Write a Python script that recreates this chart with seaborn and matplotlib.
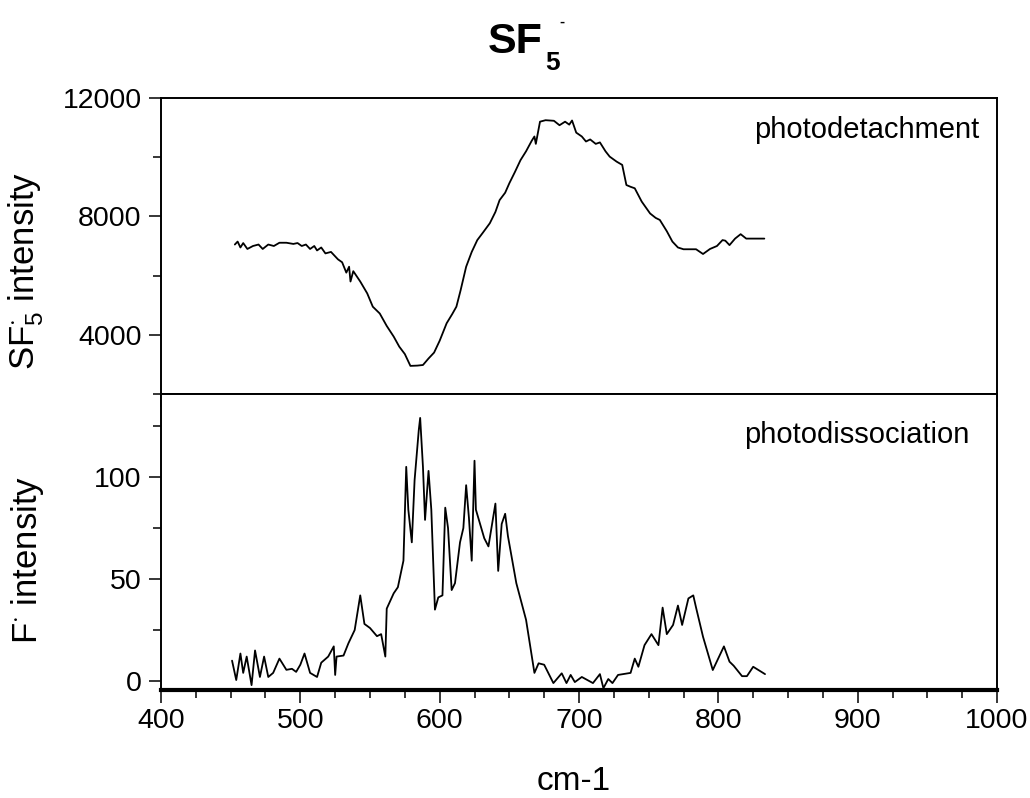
import matplotlib
matplotlib.use("Agg")
import matplotlib.pyplot as plt
from matplotlib.ticker import MultipleLocator, FixedLocator
import seaborn as sns

# ---- data ----
det_x = [453, 455, 457, 459, 462, 466, 470, 473, 477, 481, 485, 490, 495, 498, 501, 504,
         507, 510, 512, 515, 518, 522, 527, 530, 533, 535, 536, 538, 543, 548, 552, 557,
         562, 567, 571, 575, 579, 584, 588, 592, 596, 600, 605, 609, 612, 615, 619, 623,
         627, 631, 636, 640, 643, 647, 650, 654, 658, 662, 666, 668, 669, 672, 676, 682,
         686, 690, 693, 695, 698, 702, 705, 708, 712, 715, 719, 722, 727, 731, 734, 737,
         740, 745, 751, 755, 758, 763, 767, 771, 775, 784, 789, 794, 799, 803, 805, 808,
         812, 816, 820, 833]
det_y = [7050, 7150, 6950, 7100, 6900, 7000, 7050, 6900, 7050, 7000, 7110, 7110, 7070, 7100,
         7000, 7050, 6900, 7000, 6850, 6950, 6750, 6800, 6550, 6450, 6100, 6300, 5800, 6150,
         5800, 5400, 4950, 4720, 4300, 3940, 3600, 3350, 2950, 2960, 2980, 3200, 3400, 3800,
         4390, 4700, 4950, 5500, 6300, 6800, 7200, 7450, 7770, 8150, 8550, 8800, 9120, 9500,
         9900, 10200, 10550, 10700, 10450, 11200, 11250, 11230, 11080, 11200, 11100, 11240,
         10830, 10700, 10530, 10600, 10450, 10500, 10200, 10020, 9850, 9740, 9060, 9000, 8950,
         8500, 8100, 7950, 7880, 7500, 7150, 6950, 6890, 6890, 6730, 6900, 7000, 7200, 7180,
         7030, 7250, 7400, 7250, 7250]

dis_x = [451, 454, 457, 459, 461.5, 465, 467.5, 471, 474, 477, 480.5, 485, 490, 494, 497, 500,
         503, 507, 512, 515, 520, 524, 525, 526, 531, 534.5, 539, 543, 546, 550, 555, 558,
         561, 562, 567, 570, 574, 576, 577.5, 580, 582, 585, 586, 588, 589.5, 592, 594, 596.6,
         599, 602, 604, 606, 608.6, 611, 614.6, 617, 619, 621, 623, 625, 626, 629, 632, 635,
         640, 642, 644.5, 647, 649, 655, 662, 668, 671, 675, 681.6, 687.6, 691, 694, 697, 702,
         706, 710, 715, 717.5, 721, 724, 728, 737, 740, 742.6, 747, 752, 757, 760, 763, 767.5,
         771, 774, 778.5, 782, 784, 789, 796, 804, 808, 811, 817, 820.5, 825, 833.5]
dis_y = [10, 0.5, 13.5, 4, 12, -2, 15, 2, 12, 2, 4, 11, 5.5, 6, 4.5, 8,
         13.5, 4, 2, 9, 12, 17, 3, 12, 12.5, 18.5, 25, 42, 28, 26, 22, 23,
         12, 35.5, 43, 46, 59, 105, 84, 68, 98.5, 123, 129, 105, 79, 103, 84, 35,
         41, 42, 85, 75, 44.6, 48, 68, 75, 96, 80, 59, 108, 84, 77, 70, 66,
         87, 54, 77, 82, 71, 48, 30, 4, 8.7, 8, -1, 3.8, -1, 3, -0.5, 2,
         0.5, -1, 3.4, -3.5, 1, -1, 3, 4, 11, 7, 17.6, 23, 17.6, 36, 23, 27.5,
         37, 27.5, 40.5, 42, 36, 21.7, 5.4, 17, 9.5, 7.5, 2.4, 2.4, 7, 3.4]

top_major = [4000, 8000, 12000]
top_minor = [2000, 6000, 10000]
bot_major = [0, 50, 100]
bot_minor = [25, 75, 125]
x_major = [400, 500, 600, 700, 800, 900, 1000]

# ---- style ----
sns.set_style("ticks")
plt.rcParams['font.family'] = ['Liberation Sans', 'DejaVu Sans']
plt.rcParams['mathtext.fontset'] = 'custom'
plt.rcParams['mathtext.rm'] = 'Liberation Sans'
plt.rcParams['mathtext.it'] = 'Liberation Sans:italic'
plt.rcParams['mathtext.bf'] = 'Liberation Sans:bold'
plt.rcParams['text.color'] = 'black'
plt.rcParams['axes.labelcolor'] = 'black'
plt.rcParams['xtick.color'] = 'black'
plt.rcParams['ytick.color'] = 'black'
plt.rcParams['xtick.labelcolor'] = 'black'
plt.rcParams['ytick.labelcolor'] = 'black'

fig, (ax1, ax2) = plt.subplots(2, 1, sharex=True, figsize=(10.3, 7.98), dpi=100)
fig.subplots_adjust(left=0.1563, right=0.968, top=0.8772, bottom=0.1353, hspace=0)

sns.lineplot(x=det_x, y=det_y, ax=ax1, color='black', lw=1.3, sort=False, estimator=None)
sns.lineplot(x=dis_x, y=dis_y, ax=ax2, color='black', lw=1.3, sort=False, estimator=None)

ax1.set_xlim(400, 1000)
ax1.set_ylim(2000, 12000)
ax2.set_ylim(-4.4, 140.7)

tick_fs = 20.5
for ax, maj, mnr in ((ax1, top_major, top_minor), (ax2, bot_major, bot_minor)):
    ax.yaxis.set_major_locator(FixedLocator(maj))
    ax.yaxis.set_minor_locator(FixedLocator(mnr))
    ax.xaxis.set_major_locator(FixedLocator(x_major))
    ax.xaxis.set_minor_locator(MultipleLocator(25))
    ax.tick_params(axis='both', which='major', direction='out', length=9, width=1.1,
                   color='black', labelcolor='black', labelsize=tick_fs, pad=4)
    ax.tick_params(axis='both', which='minor', direction='out', length=5.5, width=1.1,
                   color='black')
    ax.tick_params(axis='y', which='major', pad=5)
    for s in ax.spines.values():
        s.set_visible(True)
        s.set_color('black')
        s.set_linewidth(1.4)

ax1.tick_params(axis='x', labelbottom=False)
ax2.spines['bottom'].set_linewidth(3.0)

ax1.set_ylabel(r'SF$_{5}^{\cdot}$ intensity', fontsize=25, color='black')
ax2.set_ylabel(r'F$^{\cdot}$ intensity', fontsize=25, color='black')
ax1.yaxis.set_label_coords(-0.137, 0.415)
ax2.yaxis.set_label_coords(-0.137, 0.44)

ax2.set_xlabel('cm-1', fontsize=24, color='black')
ax2.xaxis.set_label_coords(0.494, -0.255)

ax1.text(987, 10920, 'photodetachment', fontsize=21, ha='right', va='center', color='black')
ax2.text(980, 120.6, 'photodissociation', fontsize=21, ha='right', va='center', color='black')

# title SF5^- built from pieces: main, subscript, tiny superscript dash
fig.text(488 / 1030, 1 - 53 / 798, 'SF', fontsize=31, fontweight='bold', ha='left',
         va='baseline', color='black')
fig.text(545 / 1030, 1 - 70 / 798, '5', fontsize=19, fontweight='bold', ha='left',
         va='baseline', color='black')
fig.text(559 / 1030, 1 - 26 / 798, '-', fontsize=11, fontweight='bold', ha='left',
         va='baseline', color='black')

fig.savefig('out.png', dpi=100)
